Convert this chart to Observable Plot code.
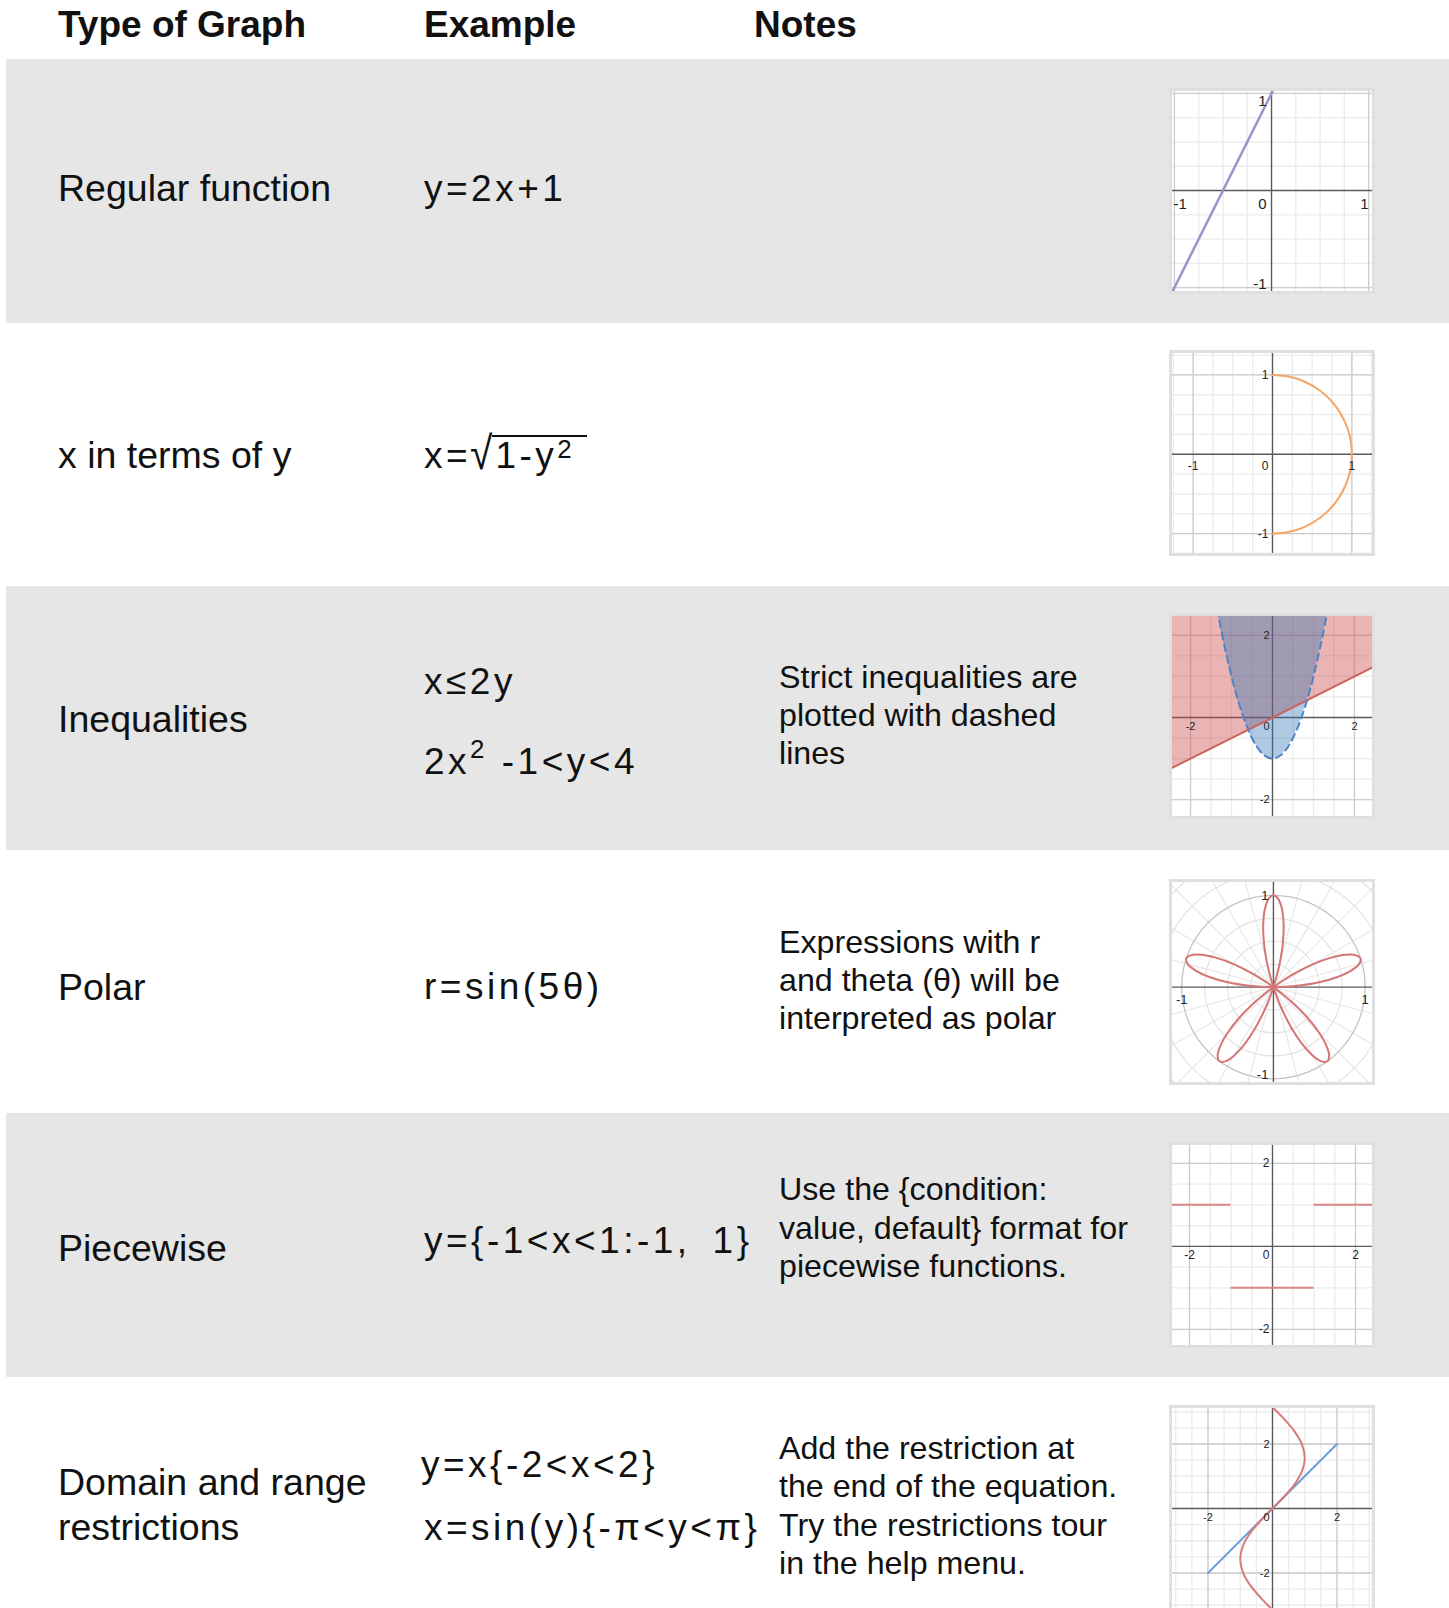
<!DOCTYPE html>
<html><head><meta charset="utf-8">
<script src="https://cdn.jsdelivr.net/npm/d3@7"></script>
<script src="https://cdn.jsdelivr.net/npm/@observablehq/plot@0.6"></script>
<style>
body{margin:0;background:#fff;}
#page{position:relative;width:1449px;height:1608px;overflow:hidden;font-family:"Liberation Sans",Arial,Helvetica,sans-serif;color:#111;}
.band{position:absolute;left:6px;width:1443px;background:#e5e6e5;}
.t{position:absolute;white-space:nowrap;}
.hd{font-weight:bold;font-size:37px;line-height:44px;}
.lab{font-size:37.5px;line-height:44px;}
.ex{font-size:37px;line-height:44px;letter-spacing:3.5px;}
.nt{font-size:32.2px;line-height:38px;}
.thumb{position:absolute;left:1169px;width:206px;height:206px;box-sizing:border-box;border:3px solid #dfdfdf;background:#fff;overflow:hidden;}
.thumb svg{display:block;}
sup{font-size:0.7em;vertical-align:0;position:relative;top:-0.6em;}
.rad{display:inline-block;transform:scale(1.1,1.25);transform-origin:50% 70%;letter-spacing:0;margin-right:1px;}
.radin{display:inline-block;border-top:2.5px solid #111;line-height:38px;padding:0 12px 0 3px;}
.radin sup{top:-0.38em;}
</style></head><body><div id="page"></div>
<script>
// ---------- table text ----------
const header = ["Type of Graph", "Example", "Notes"];
const graphTypes = [["Regular function"], ["x in terms of y"], ["Inequalities"], ["Polar"], ["Piecewise"], ["Domain and range", "restrictions"]];
const examples = [
  ["y=2x+1"],
  ['x=<span class="rad">√</span><span class="radin">1-y<sup>2</sup></span>'],
  ["x≤2y", "2x<sup>2</sup> -1&lt;y&lt;4"],
  ["r=sin(5θ)"],
  ["y={-1&lt;x&lt;1:-1,&ensp;1}"],
  ["y=x{-2&lt;x&lt;2}", "x=sin(y){-π&lt;y&lt;π}"]
];
const notes = [
  [], [],
  ["Strict inequalities are", "plotted with dashed", "lines"],
  ["Expressions with r", "and theta (θ) will be", "interpreted as polar"],
  ["Use the {condition:", "value, default} format for", "piecewise functions."],
  ["Add the restriction at", "the end of the equation.", "Try the restrictions tour", "in the help menu."]
];

// ---------- graph data ----------
const quarterTicks = [-1.25, -1, -0.75, -0.5, -0.25, 0.25, 0.5, 0.75, 1, 1.25];
const halfTicks = [-3, -2.5, -2, -1.5, -1, -0.5, 0.5, 1, 1.5, 2, 2.5, 3];
// 1: y = 2x + 1
const lineX1 = [-1.02, 0.02];
const lineY1 = [-1.04, 1.04];
// 2: x = sqrt(1 - y^2)
const semiY = [1, 0.98, 0.92, 0.8, 0.6, 0.3, 0, -0.3, -0.6, -0.8, -0.92, -0.98, -1];
const semiX = [0, 0.199, 0.392, 0.6, 0.8, 0.954, 1, 0.954, 0.8, 0.6, 0.392, 0.199, 0];
// 3: x <= 2y  and  2x^2 - 1 < y < 4
const halfX = [-2.5, 2.5];
const halfY = [-1.25, 1.25];
const parabX = [-1.35, -1.2, -1, -0.8, -0.6, -0.4, -0.2, 0, 0.2, 0.4, 0.6, 0.8, 1, 1.2, 1.35];
const parabY = [2.645, 1.88, 1, 0.28, -0.28, -0.68, -0.92, -1, -0.92, -0.68, -0.28, 0.28, 1, 1.88, 2.645];
// 4: r = sin(5θ)
const petalDirs = [18, 90, 162, 234, 306];
const petalOffsets = [-18, -16.5, -15, -12, -9, -6, -3, 0, 3, 6, 9, 12, 15, 16.5, 18];
const petalRadii = [0, 0.131, 0.259, 0.5, 0.707, 0.866, 0.966, 1, 0.966, 0.866, 0.707, 0.5, 0.259, 0.131, 0];
const polarCircles = [0.25, 0.5, 0.75, 1.25, 1.5];
const polarUnit = [1];
const polarRays = [15, 30, 45, 60, 75, 105, 120, 135, 150, 165];
// 5: piecewise
const pieceX1 = [-2.5, -1, 1];
const pieceX2 = [-1, 1, 2.5];
const pieceY = [1, -1, 1];
// 6: restrictions
const lineX6 = [-2, 2];
const lineY6 = [-2, 2];
const sineY = [-3.1416, -2.8, -2.4, -2, -1.5708, -1.2, -0.8, -0.4, 0, 0.4, 0.8, 1.2, 1.5708, 2, 2.4, 2.8, 3.1416];
const sineX = [0, -0.335, -0.675, -0.909, -1, -0.932, -0.717, -0.389, 0, 0.389, 0.717, 0.932, 1, 0.909, 0.675, 0.335, 0];

const pts = (xs, ys) => xs.map((x, i) => ({x, y: ys[i]}));

// ---------- layout ----------
const page = document.getElementById("page");
function el(cls, html, left, top) {
  const d = document.createElement("div");
  d.className = cls; d.innerHTML = html;
  d.style.left = left + "px"; d.style.top = top + "px";
  page.appendChild(d); return d;
}
const rowTop = i => 59 + i * 263.6;
for (let i = 0; i < 6; i += 2) {
  const b = el("band", "", 6, rowTop(i)); b.style.height = "263.6px";
}
const headLefts = [58, 424, 754];
header.forEach((h, i) => el("t hd", h, headLefts[i], 25 - 22));

const labelCenters = [[188], [455], [719], [986.5], [1248], [1482, 1527]];
const exampleCenters = [[189], [456], [682, 762], [986.5], [1241], [1464.5, 1528]];
const exampleLefts = [[424], [424], [424, 424], [424], [424], [421, 424]];
const noteCenters = [[], [], [677, 715, 753], [941.5, 980, 1018], [1188.5, 1227.5, 1265.5], [1448, 1486, 1525, 1563]];
graphTypes.forEach((lines, r) => lines.forEach((s, j) => el("t lab", s, 58, labelCenters[r][j] - 22)));
examples.forEach((lines, r) => lines.forEach((s, j) => el("t ex", s, exampleLefts[r][j], exampleCenters[r][j] - 22)));
notes.forEach((lines, r) => lines.forEach((s, j) => el("t nt", s, 779, noteCenters[r][j] - 19)));

// ---------- thumbnails ----------
const GRID_MINOR = "#ebebeb", GRID_MAJOR = "#cdcdcd", AXIS = "#5a5a5a", LABEL = "#222";
function thumb(top, cfg) {
  const marks = [];
  if (cfg.minor) marks.push(
    Plot.ruleX(cfg.minor, {stroke: GRID_MINOR, strokeWidth: 1.3}),
    Plot.ruleY(cfg.minor, {stroke: GRID_MINOR, strokeWidth: 1.3}));
  if (cfg.major) marks.push(
    Plot.ruleX(cfg.major, {stroke: GRID_MAJOR, strokeWidth: 1.3}),
    Plot.ruleY(cfg.major, {stroke: GRID_MAJOR, strokeWidth: 1.3}));
  marks.push(...(cfg.under || []));
  marks.push(
    Plot.ruleX([0], {stroke: AXIS, strokeWidth: 1.4}),
    Plot.ruleY([0], {stroke: AXIS, strokeWidth: 1.4}));
  marks.push(...cfg.marks);
  const xAnchor = cfg.xAnchor || [], yShift = cfg.yShift || [];
  cfg.xt.forEach((v, i) => marks.push(
    Plot.text([v], {x: d => d, y: () => 0, text: d => String(d), dy: cfg.dy, fontSize: cfg.fs, fill: LABEL,
      textAnchor: xAnchor[i] || "middle", dx: xAnchor[i] === "start" ? -1 : 0})));
  cfg.yt.forEach((v, i) => marks.push(
    Plot.text([v], {x: () => 0, y: d => d, text: d => String(d), dx: -cfg.dx, dy: yShift[i] || 0, textAnchor: "end", fontSize: cfg.fs, fill: LABEL})));
  if (cfg.origin) marks.push(
    Plot.text(["0"], {x: () => 0, y: () => 0, text: d => d, dx: -cfg.dx, dy: cfg.dy, textAnchor: "end", fontSize: cfg.fs, fill: LABEL}));
  const plot = Plot.plot({
    width: 200, height: 200, margin: 0,
    x: {domain: cfg.xd, axis: null},
    y: {domain: cfg.yd, axis: null},
    r: cfg.r,
    style: {background: "white", fontFamily: "Liberation Sans, Arial, sans-serif"},
    marks
  });
  const box = document.createElement("div");
  box.className = "thumb"; box.style.top = top + "px";
  box.appendChild(plot); page.appendChild(box);
}

// 1
thumb(88, {
  xd: [-1.02, 1.04], yd: [-1.04, 1.02], minor: quarterTicks, major: [-1, 1],
  fs: 15, dy: 14, dx: 5, xt: [-1, 1], xAnchor: ["start", "end"], yt: [1, -1], yShift: [7.5, -3], origin: true,
  marks: [Plot.line(pts(lineX1, lineY1), {x: "x", y: "y", stroke: "#a48fca", strokeWidth: 2.5, clip: true})]
});
// 2
thumb(350, {
  xd: [-1.26, 1.26], yd: [-1.25, 1.27], minor: quarterTicks, major: [-1, 1],
  fs: 12, dy: 12, dx: 4, xt: [-1, 1], yt: [1, -1], origin: true,
  marks: [Plot.line(pts(semiX, semiY), {x: "x", y: "y", stroke: "#f5a565", strokeWidth: 2, curve: "catmull-rom", clip: true})]
});
// 3
thumb(613, {
  xd: [-2.44, 2.44], yd: [-2.41, 2.46], minor: halfTicks, major: [-2, 2],
  fs: 11, dy: 9, dx: 3, xt: [-2, 2], yt: [2, -2], origin: true,
  marks: [
    Plot.areaY(pts(halfX, halfY), {x: "x", y1: "y", y2: () => 3, fill: "#c74440", fillOpacity: 0.4, clip: true}),
    Plot.areaY(pts(parabX, parabY), {x: "x", y1: "y", y2: () => 3, fill: "#2d70b3", fillOpacity: 0.38, curve: "catmull-rom", clip: true}),
    Plot.line(pts(halfX, halfY), {x: "x", y: "y", stroke: "#cf5f5c", strokeWidth: 2, clip: true}),
    Plot.line(pts(parabX, parabY), {x: "x", y: "y", stroke: "#4a86c5", strokeWidth: 2, strokeDasharray: "7,5", curve: "catmull-rom", clip: true})
  ]
});
// 4
const roseData = petalDirs.flatMap((phi, k) => petalOffsets.map((o, i) => ({k, a: (phi + o) * Math.PI / 180, r: petalRadii[i]})));
const xd4 = [-1.10, 1.08];
thumb(879, {
  xd: xd4, yd: [-1.04, 1.14],
  r: {type: "linear", domain: [0, 1], range: [0, 200 / (xd4[1] - xd4[0])]},
  fs: 13, dy: 13, dx: 5, xt: [-1, 1], yt: [1, -1], yShift: [0, -4], origin: false,
  under: [
    Plot.link(polarRays, {x1: a => -3 * Math.cos(a * Math.PI / 180), y1: a => -3 * Math.sin(a * Math.PI / 180),
      x2: a => 3 * Math.cos(a * Math.PI / 180), y2: a => 3 * Math.sin(a * Math.PI / 180), stroke: "#e8e8e8", strokeWidth: 1.2, clip: true}),
    Plot.dot(polarCircles, {x: () => 0, y: () => 0, r: d => d, stroke: "#e3e3e3", strokeWidth: 1.2, fill: "none", clip: true}),
    Plot.dot(polarUnit, {x: () => 0, y: () => 0, r: d => d, stroke: "#c4c4c4", strokeWidth: 1.3, fill: "none", clip: true})
  ],
  marks: [Plot.line(roseData, {x: d => d.r * Math.cos(d.a), y: d => d.r * Math.sin(d.a), z: "k", stroke: "#d57575", strokeWidth: 2, curve: "catmull-rom"})]
});
// 5
thumb(1142, {
  xd: [-2.41, 2.41], yd: [-2.39, 2.43], minor: halfTicks, major: [-2, 2],
  fs: 12, dy: 8.5, dx: 3, xt: [-2, 2], yt: [2, -2], origin: true,
  marks: [Plot.ruleY(pieceY.map((y, i) => ({y, x1: pieceX1[i], x2: pieceX2[i]})), {y: "y", x1: "x1", x2: "x2", stroke: "#dc8585", strokeWidth: 2, clip: true})]
});
// 6
thumb(1405, {
  xd: [-3.1, 3.1], yd: [-3.1, 3.1], minor: halfTicks, major: [-2, 2],
  fs: 11, dy: 8.5, dx: 3, xt: [-2, 2], yt: [2, -2], origin: true,
  marks: [
    Plot.line(pts(lineX6, lineY6), {x: "x", y: "y", stroke: "#6f9ed8", strokeWidth: 2}),
    Plot.line(pts(sineX, sineY), {x: "x", y: "y", stroke: "#d67a7a", strokeWidth: 2, curve: "catmull-rom", clip: true})
  ]
});
</script></body></html>
